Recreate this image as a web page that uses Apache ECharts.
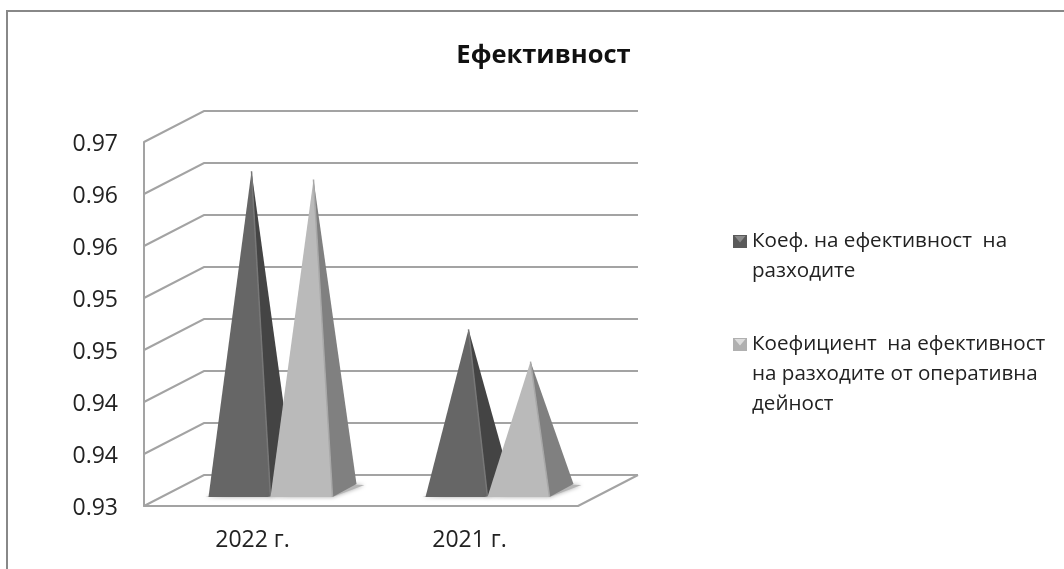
<!DOCTYPE html>
<html>
<head>
<meta charset="utf-8">
<title>Ефективност</title>
<script src="https://cdn.jsdelivr.net/npm/echarts@6/dist/echarts.min.js"></script>
<style>
  html, body { margin: 0; padding: 0; background: #fff; }
  #main { width: 1064px; height: 569px; }
</style>
</head>
<body>
<div id="main"></div>
<script>
// данни от графиката
const categories = ['2022 г.', '2021 г.'];
const seriesNames = ['Коеф. на ефективност на разходите', 'Коефициент на ефективност на разходите от оперативна дейност'];
const kofRazhodi = [0.9657, 0.9505];
const kofOperativna = [0.9649, 0.9474];
const tickValues = [0.935, 0.94, 0.945, 0.95, 0.955, 0.96, 0.965, 0.97];
const tickLabels = ['0.93', '0.94', '0.94', '0.95', '0.95', '0.96', '0.96', '0.97'];

const font = '"Open Sans", sans-serif';
// дълбочина на 3D пода
const depthX = 60, depthY = -31;
const lineColor = '#a3a3a3';

// пирамида: side 0 е лявата в групата, side 1 е дясната
function pyramid(side, frontColor, edgeColor, sideColor) {
  return function (params, api) {
    const halfW = 31, halfDx = 12, halfDy = 6.5;
    const apex = api.coord([api.value(0), api.value(1)]);
    const base = api.coord([api.value(0), tickValues[0]]);
    const cx = base[0] + depthX / 2 + (side === 0 ? -halfW : halfW);
    const by = base[1] + depthY / 2;
    const ax = cx, ay = apex[1] + depthY / 2;
    const fl = [cx - halfW - halfDx, by + halfDy];
    const fr = [cx + halfW - halfDx, by + halfDy];
    const br = [cx + halfW + halfDx, by - halfDy];
    return {
      type: 'group',
      children: [
        {
          type: 'polygon',
          shape: { points: [[fl[0] - 3, fl[1]], fr, [br[0] + 8, br[1] + 1], [br[0] - 20, br[1]]] },
          style: { fill: '#b5b5b5', shadowBlur: 4, shadowColor: 'rgba(0,0,0,0.35)' }
        },
        {
          type: 'polygon',
          shape: { points: [fr, br, [ax, ay]] },
          style: { fill: sideColor }
        },
        {
          type: 'polygon',
          shape: { points: [fl, fr, [ax, ay]] },
          style: { fill: frontColor }
        },
        {
          type: 'line',
          shape: { x1: fr[0], y1: fr[1], x2: ax, y2: ay },
          style: { stroke: edgeColor, lineWidth: 1.5 }
        }
      ]
    };
  };
}

// стена и под зад пирамидите
function wallLine(params, api) {
  const cs = params.coordSys;
  const p = api.coord([0, api.value(0)]);
  const x0 = cs.x, x1 = cs.x + cs.width;
  const children = [{
    type: 'polyline',
    shape: { points: [[x0, p[1]], [x0 + depthX, p[1] + depthY], [x1 + depthX, p[1] + depthY]] },
    style: { stroke: lineColor, lineWidth: 2, fill: 'none' }
  }];
  if (api.value(0) === tickValues[0]) {
    children.push({
      type: 'line',
      shape: { x1: x1, y1: p[1], x2: x1 + depthX, y2: p[1] + depthY },
      style: { stroke: lineColor, lineWidth: 2 }
    });
  }
  return { type: 'group', children: children };
}

function legendIcon(dark, light, h) {
  const svg = '<svg xmlns="http://www.w3.org/2000/svg" width="14" height="' + h + '">' +
    '<rect x="0" y="9" width="14" height="13" fill="' + dark + '"/>' +
    '<polygon points="1.5,10 12.5,10 7,16.5" fill="' + light + '"/></svg>';
  return 'image://data:image/svg+xml;charset=utf-8,' + encodeURIComponent(svg);
}

const myChart = echarts.init(document.getElementById('main'));
const legendBase = {
  orient: 'vertical',
  left: 733,
  padding: 0,
  itemWidth: 14,
  selectedMode: false,
  textStyle: { fontFamily: font, fontSize: 20.6, color: '#222', lineHeight: 30 }
};

myChart.setOption({
  animation: false,
  backgroundColor: '#fff',
  title: {
    text: 'Ефективност',
    left: 538.5,
    top: 38,
    textAlign: 'center',
    textStyle: { fontFamily: font, fontSize: 25.5, fontWeight: 'bold', color: '#111' }
  },
  legend: [
    Object.assign({}, legendBase, {
      top: 226,
      itemHeight: 60,
      data: [{ name: seriesNames[0], icon: legendIcon('#5a5a5a', '#8a8a8a', 60) }],
      formatter: () => 'Коеф. на ефективност  на\nразходите'
    }),
    Object.assign({}, legendBase, {
      top: 329,
      itemHeight: 90,
      data: [{ name: seriesNames[1], icon: legendIcon('#b0b0b0', '#dcdcdc', 90) }],
      formatter: () => 'Коефициент  на ефективност\nна разходите от оперативна\nдейност'
    })
  ],
  grid: { left: 144, top: 142, width: 434, height: 364 },
  xAxis: {
    type: 'category',
    data: categories,
    axisLine: { lineStyle: { color: lineColor, width: 2 } },
    axisTick: { show: false },
    axisLabel: { fontFamily: font, fontSize: 23, color: '#222', margin: 23 }
  },
  yAxis: {
    type: 'value',
    min: 0.935,
    max: 0.97,
    interval: 0.005,
    axisLine: { show: true, lineStyle: { color: lineColor, width: 2 } },
    axisTick: { show: false },
    splitLine: { show: false },
    axisLabel: {
      fontFamily: font,
      fontSize: 23,
      color: '#222',
      margin: 26,
      verticalAlign: 'top',
      lineHeight: 5,
      formatter: (value, index) => tickLabels[index]
    }
  },
  graphic: [
    { type: 'line', z: 10, shape: { x1: 7, y1: 11, x2: 1064, y2: 11 }, style: { stroke: '#888', lineWidth: 2 } },
    { type: 'line', z: 10, shape: { x1: 7, y1: 10, x2: 7, y2: 569 }, style: { stroke: '#888', lineWidth: 2 } }
  ],
  series: [
    {
      type: 'custom',
      renderItem: wallLine,
      data: tickValues.map(v => [v]),
      encode: { y: 0 },
      silent: true
    },
    {
      type: 'custom',
      name: seriesNames[0],
      renderItem: pyramid(0, '#666666', '#777777', '#444444'),
      data: categories.map((c, i) => [i, kofRazhodi[i]]),
      encode: { x: 0, y: 1 }
    },
    {
      type: 'custom',
      name: seriesNames[1],
      renderItem: pyramid(1, '#bababa', '#a8a8a8', '#808080'),
      data: categories.map((c, i) => [i, kofOperativna[i]]),
      encode: { x: 0, y: 1 }
    }
  ]
});
window.addEventListener('resize', function () { myChart.resize(); });
</script>
</body>
</html>
